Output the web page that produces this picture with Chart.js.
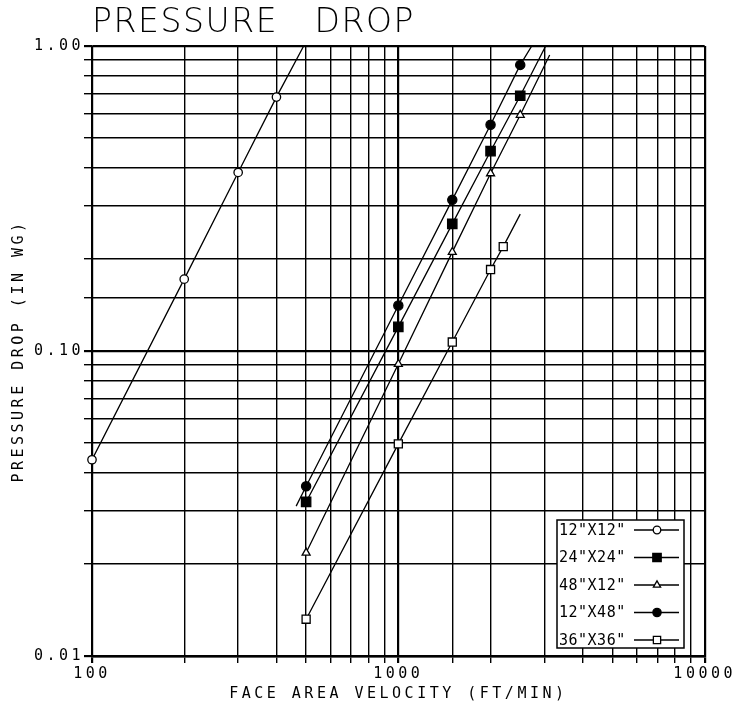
<!DOCTYPE html>
<html>
<head>
<meta charset="utf-8">
<title>Pressure Drop</title>
<script src="https://cdn.jsdelivr.net/npm/chart.js@4.4.1/dist/chart.umd.min.js"></script>
<style>
  html, body { margin: 0; padding: 0; background: #fff; }
  canvas { display: block; }
</style>
</head>
<body>
<canvas id="chart" width="738" height="706"></canvas>
<script>
const seriesNames = ['12"X12"', '24"X24"', '48"X12"', '12"X48"', '36"X36"'];

// face velocity (ft/min) and pressure drop (in wg)
const vel12x12 = [100, 200, 300, 400];
const drop12x12 = [0.044, 0.172, 0.385, 0.68];

const vel24x24 = [500, 1000, 1500, 2000, 2500];
const drop24x24 = [0.032, 0.12, 0.261, 0.452, 0.687];

const vel48x12 = [500, 1000, 1500, 2000, 2500];
const drop48x12 = [0.0218, 0.0906, 0.211, 0.382, 0.594];

const vel12x48 = [500, 1000, 1500, 2000, 2500];
const drop12x48 = [0.036, 0.141, 0.313, 0.552, 0.867];

const vel36x36 = [500, 1000, 1500, 2000, 2200];
const drop36x36 = [0.0132, 0.0496, 0.107, 0.185, 0.22];

// the drawn curves run a little past the points (null = starts at first point)
const curveStartVel = [null, null, null, 464, null];
const curveStartDrop = [null, null, null, 0.031, null];
const curveEndVel = [491, 3027, 3119, 2726, 2500];
const curveEndDrop = [1.0, 1.0, 0.934, 1.0, 0.281];

const xTickLabels = [100, 1000, 10000];
const yTickLabels = [0.01, 0.1, 1];

const markers = [
  { style: 'circle', radius: 4.2, fill: '#fff' },
  { style: 'rect', radius: 6.6, fill: '#000' },
  { style: 'triangle', radius: 4.6, fill: '#fff' },
  { style: 'circle', radius: 4.6, fill: '#000' },
  { style: 'rect', radius: 5.7, fill: '#fff' },
];

const velSets = [vel12x12, vel24x24, vel48x12, vel12x48, vel36x36];
const dropSets = [drop12x12, drop24x24, drop48x12, drop12x48, drop36x36];

const MONO = '"DejaVu Sans Mono", monospace';
const pts = (xs, ys) => xs.map((x, i) => ({ x: x, y: ys[i] }));
const isDecade = v => Math.abs(Math.log10(v) - Math.round(Math.log10(v))) < 1e-6;
const inList = (list, v) => list.some(t => Math.abs(t - v) / t < 1e-6);

const datasets = [];
seriesNames.forEach((name, i) => {
  const m = markers[i];
  datasets.push({
    label: name,
    data: pts(velSets[i], dropSets[i]),
    showLine: false,
    pointStyle: m.style,
    pointRadius: m.radius,
    pointBackgroundColor: m.fill,
    pointBorderColor: '#000',
    pointBorderWidth: 1.3,
    clip: false,
    order: 0
  });
  const curve = pts(velSets[i], dropSets[i]);
  if (curveStartVel[i] !== null) curve.unshift({ x: curveStartVel[i], y: curveStartDrop[i] });
  curve.push({ x: curveEndVel[i], y: curveEndDrop[i] });
  datasets.push({
    label: name + ' curve',
    data: curve,
    showLine: true,
    pointRadius: 0,
    borderColor: '#000',
    borderWidth: 1.3,
    clip: 0,
    order: 1
  });
});

const extras = {
  id: 'extras',
  beforeUpdate(chart) { chart.ctx.letterSpacing = '3.5px'; },
  beforeDraw(chart) { chart.ctx.letterSpacing = '3.5px'; },
  afterDraw(chart) {
    const ctx = chart.ctx;
    const area = chart.chartArea;

    // title
    ctx.save();
    ctx.fillStyle = '#000';
    ctx.font = '200 33px "DejaVu Sans"';
    ctx.letterSpacing = '1.6px';
    ctx.wordSpacing = '24px';
    ctx.textAlign = 'left';
    ctx.textBaseline = 'alphabetic';
    ctx.fillText('PRESSURE DROP', area.left, 32);
    ctx.restore();

    // legend box
    const box = { x: 557, y: 520, w: 127, h: 128, row0: 10, step: 27.5 };
    ctx.save();
    ctx.fillStyle = '#fff';
    ctx.fillRect(box.x, box.y, box.w, box.h);
    ctx.strokeStyle = '#000';
    ctx.lineWidth = 1.5;
    ctx.strokeRect(box.x, box.y, box.w, box.h);
    ctx.font = '15px ' + MONO;
    ctx.letterSpacing = '0.5px';
    ctx.textAlign = 'left';
    ctx.textBaseline = 'middle';
    seriesNames.forEach((name, i) => {
      const y = box.y + box.row0 + i * box.step;
      ctx.fillStyle = '#000';
      ctx.fillText(name, box.x + 2, y + 1);
      ctx.beginPath();
      ctx.lineWidth = 1.3;
      ctx.moveTo(box.x + 77, y);
      ctx.lineTo(box.x + 122, y);
      ctx.stroke();
      const m = markers[i];
      ctx.fillStyle = m.fill;
      Chart.helpers.drawPoint(ctx, { pointStyle: m.style, radius: m.radius * 0.9, borderWidth: 1.3, rotation: 0 }, box.x + 100, y);
    });
    ctx.restore();
  }
};

const axisFont = { family: MONO, size: 15 };
const gridWidth = c => (c.tick && isDecade(c.tick.value)) ? 2.2 : 1.4;

new Chart(document.getElementById('chart'), {
  type: 'scatter',
  data: { datasets: datasets },
  plugins: [extras],
  options: {
    responsive: false,
    animation: false,
    devicePixelRatio: 1,
    layout: { padding: { top: 46, right: 32, left: 0, bottom: 0 } },
    plugins: { legend: { display: false }, tooltip: { enabled: false } },
    scales: {
      x: {
        type: 'logarithmic',
        min: 100,
        max: 10000,
        afterFit: s => { s.height = 50; },
        grid: { color: '#000', tickColor: '#000', tickLength: 7, lineWidth: gridWidth },
        border: { color: '#000', width: 2.5 },
        ticks: {
          autoSkip: false,
          maxRotation: 0,
          minRotation: 0,
          padding: 2,
          color: '#000',
          font: axisFont,
          callback: v => inList(xTickLabels, v) ? String(Math.round(v)) : ''
        },
        title: {
          display: true,
          text: 'FACE AREA VELOCITY (FT/MIN)',
          color: '#000',
          font: axisFont,
          padding: { top: 0, bottom: 3 }
        }
      },
      y: {
        type: 'logarithmic',
        min: 0.01,
        max: 1,
        afterFit: s => { s.width = 92; },
        grid: { color: '#000', tickColor: '#000', tickLength: 8, lineWidth: gridWidth },
        border: { color: '#000', width: 1.6 },
        ticks: {
          autoSkip: false,
          padding: 0,
          color: '#000',
          font: axisFont,
          callback: v => inList(yTickLabels, v) ? v.toFixed(2) : ''
        },
        title: {
          display: true,
          text: 'PRESSURE DROP (IN WG)',
          color: '#000',
          font: axisFont,
          padding: { top: 10, bottom: 0 }
        }
      }
    }
  }
});
</script>
</body>
</html>
